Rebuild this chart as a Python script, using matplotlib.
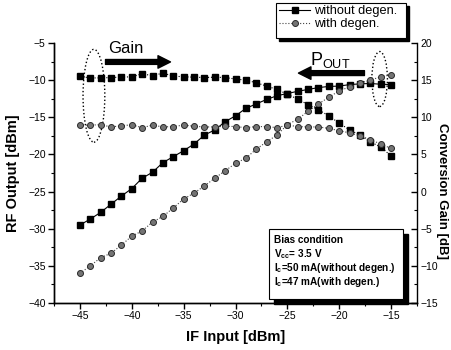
import matplotlib
matplotlib.use("Agg")
import matplotlib.pyplot as plt
from matplotlib.patches import Ellipse, Rectangle
from matplotlib.ticker import MultipleLocator

plt.rcParams['font.family'] = ['Liberation Sans', 'DejaVu Sans']
plt.rcParams['mathtext.default'] = 'regular'

# IF input power [dBm]
if_in = list(range(-45, -14))

# RF output [dBm] (left axis)
pout_wo = [-29.5, -28.7, -27.8, -26.7, -25.6, -24.6, -23.2, -22.4, -21.1, -20.3,
           -19.5, -18.6, -17.4, -16.7, -15.6, -14.8, -13.8, -13.2, -12.6, -12.1,
           -11.8, -11.5, -11.25, -11.0, -10.85, -10.8, -10.6, -10.5, -10.45, -10.55, -10.6]
pout_w = [-36.0, -35.0, -33.9, -33.3, -32.2, -31.0, -30.3, -29.1, -28.35, -27.2,
          -26.0, -25.2, -24.25, -23.2, -22.2, -21.2, -20.5, -19.3, -18.3, -17.4,
          -16.0, -15.25, -14.2, -13.2, -12.3, -11.45, -10.9, -10.4, -10.0, -9.55, -9.3]

# conversion gain [dB] (right axis)
gain_wo = [15.5, 15.3, 15.3, 15.35, 15.4, 15.45, 15.85, 15.6, 15.95, 15.55,
           15.45, 15.4, 15.35, 15.4, 15.35, 15.15, 15.0, 14.65, 14.2, 13.75,
           13.1, 12.45, 11.7, 11.0, 10.2, 9.2, 8.3, 7.6, 6.7, 6.0, 4.8]
gain_w = [8.95, 8.95, 9.0, 8.7, 8.85, 9.0, 8.6, 8.95, 8.7, 8.75,
          8.95, 8.8, 8.7, 8.7, 8.8, 8.75, 8.6, 8.75, 8.75, 8.6,
          8.95, 8.75, 8.7, 8.7, 8.5, 8.2, 7.9, 7.5, 7.0, 6.4, 5.8]

W, H = 452, 350
fig = plt.figure(figsize=(W / 100, H / 100), dpi=100)
ax = fig.add_axes([54 / W, 1 - 303 / H, 363 / W, 260 / H])
ax2 = ax.twinx()

sq = dict(marker='s', ms=3.8, mfc='black', mec='black', color='black')
ci = dict(marker='o', ms=4.3, mfc='#747474', mec='#2a2a2a', mew=0.7, color='#444444')

l1, = ax.plot(if_in, pout_wo, lw=0.8, ls='-', **sq)
l2, = ax.plot(if_in, pout_w, lw=0.8, ls=':', **ci)
ax2.plot(if_in, gain_wo, lw=0.8, ls=':', **sq)
ax2.plot(if_in, gain_w, lw=0.8, ls=':', **ci)

ax.set_xlim(-47.5, -12.5)
ax.set_ylim(-40, -5)
ax2.set_ylim(-15, 20)

ax.xaxis.set_major_locator(MultipleLocator(5))
ax.xaxis.set_minor_locator(MultipleLocator(2.5))
ax.yaxis.set_major_locator(MultipleLocator(5))
ax.yaxis.set_minor_locator(MultipleLocator(2.5))
ax2.yaxis.set_major_locator(MultipleLocator(5))
ax2.yaxis.set_minor_locator(MultipleLocator(2.5))

for a in (ax, ax2):
    a.spines['top'].set_visible(False)
    for s in a.spines.values():
        s.set_linewidth(1.0)
ax.spines['right'].set_visible(False)
ax.tick_params(which='major', direction='out', length=4, width=1, labelsize=7.5, pad=2)
ax.tick_params(which='minor', direction='out', length=2.5, width=0.8)
ax2.tick_params(which='major', direction='in', length=4, width=1, labelsize=7.5, pad=2.5)
ax2.tick_params(which='minor', direction='in', length=2.5, width=0.8)

ax.set_xlabel('IF Input [dBm]', fontsize=10.5, fontweight='bold', labelpad=6)
ax.set_ylabel('RF Output [dBm]', fontsize=10.5, fontweight='bold', labelpad=6)
ax2.set_ylabel('Conversion Gain [dB]', fontsize=9.5, fontweight='bold', rotation=270,
               va='center', ha='center')
ax2.yaxis.set_label_coords(1.068, 0.43)

# annotations
ax.add_patch(Ellipse((-43.65, -12.1), 2.1, 12.5, fill=False, ls=':', lw=1.0, ec='black'))
ax.add_patch(Ellipse((-16.1, -9.85), 1.5, 7.4, fill=False, ls=':', lw=1.0, ec='black'))
ax.annotate('', xy=(-36.0, -7.55), xytext=(-42.8, -7.55),
            arrowprops=dict(arrowstyle='simple,head_length=0.9,head_width=0.9,tail_width=0.35',
                            fc='black', ec='black'))
ax.annotate('', xy=(-24.2, -9.05), xytext=(-17.3, -9.05),
            arrowprops=dict(arrowstyle='simple,head_length=0.9,head_width=0.9,tail_width=0.35',
                            fc='black', ec='black'))
ax.text(-40.6, -5.7, 'Gain', fontsize=12, ha='center', va='center')
ax.text(-20.9, -7.3, '$P_{OUT}$', fontsize=13, ha='center', va='center')

# legend / info boxes with shadow
tf = fig.transFigure
def box(x0, y0, x1, y1, dx, dy):
    fig.patches.append(Rectangle(((x0 + dx) / W, 1 - (y1 + dy) / H), (x1 - x0) / W, (y1 - y0) / H,
                                 transform=tf, fc='black', ec='black', zorder=5))
    fig.patches.append(Rectangle((x0 / W, 1 - y1 / H), (x1 - x0) / W, (y1 - y0) / H,
                                 transform=tf, fc='white', ec='black', lw=0.8, zorder=6))

box(276, 3, 406, 38, 3, 3)
leg = fig.legend([l1, l2], ['without degen.', 'with degen.'], loc='upper left',
                 bbox_to_anchor=(276 / W, 1 - 2 / H), frameon=False, fontsize=9.2,
                 handlelength=2.4, handletextpad=0.3, labelspacing=0.1,
                 borderpad=0.25, borderaxespad=0)
leg.set_zorder(7)

box(269, 229, 403, 299, 5, 5)
info = ['Bias condition', '$V_{cc}$= 3.5 V', '$I_c$=50 mA(without degen.)',
        '$I_c$=47 mA(with degen.)']
for i, t in enumerate(info):
    fig.text(274 / W, 1 - (240 + i * 14) / H, t, fontsize=7.2, fontweight='bold',
             ha='left', va='center', zorder=8)

fig.savefig('out.png', dpi=100)
